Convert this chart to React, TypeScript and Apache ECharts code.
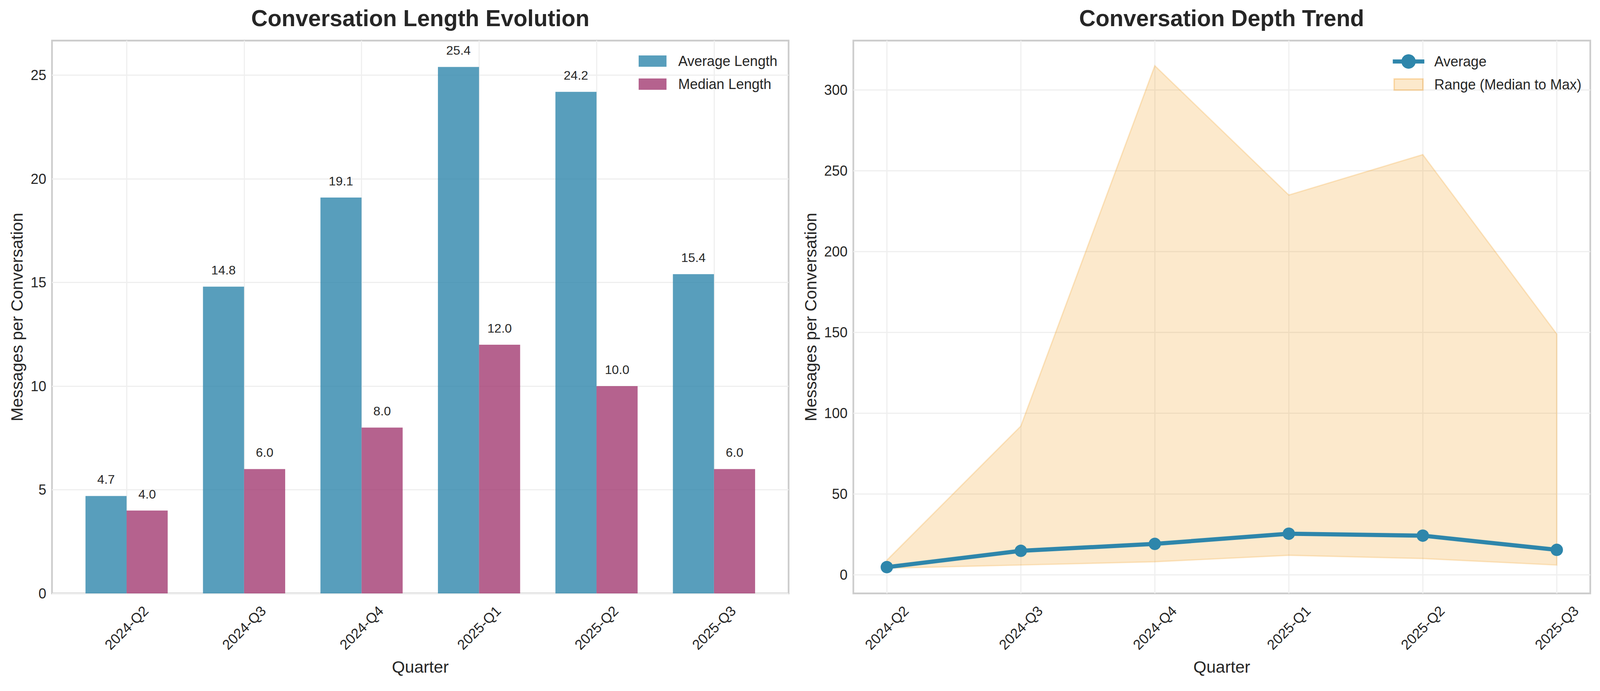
import React, { useEffect, useRef, useState } from 'react';
import * as echarts from 'echarts';

const quarters = ['2024-Q2', '2024-Q3', '2024-Q4', '2025-Q1', '2025-Q2', '2025-Q3'];
const avgLength = [4.7, 14.8, 19.1, 25.4, 24.2, 15.4];
const medianLength = [4, 6, 8, 12, 10, 6];
const maxLength = [9, 92, 315, 235, 260, 149];
const leftYTicks = [0, 5, 10, 15, 20, 25];
const rightYTicks = [0, 50, 100, 150, 200, 250, 300];

const FONT = '"Liberation Sans", Arial, Helvetica, sans-serif';
const TEXT = '#262626';
const GRID_LINE = '#efefef';
const BASE_W = 4770;
const BASE_H = 1770;

function viewSize() {
  const w = window.innerWidth || BASE_W;
  const h = window.innerHeight || BASE_H;
  return { w, h };
}

export default function App() {
  const ref = useRef<HTMLDivElement>(null);
  const [size] = useState(() => {
    document.body.style.margin = '0';
    document.body.style.overflow = 'hidden';
    return viewSize();
  });

  useEffect(() => {
    const W = size.w;
    const H = size.h;
    const sx = W / BASE_W;
    const sy = H / BASE_H;
    const s = Math.min(sx, sy);
    const X = (v: number) => v * sx;
    const Y = (v: number) => v * sy;
    const F = (v: number) => v * s;

    const chart = echarts.init(ref.current as HTMLDivElement, null, { renderer: 'svg', width: W, height: H });
    const xIdx = quarters.map((_, i) => i);
    const catLabel = (v: number) => {
      const i = Math.round(v);
      return Math.abs(v - i) < 1e-6 && quarters[i] ? quarters[i] : '';
    };
    const baseText = { color: TEXT, fontFamily: FONT };

    const xAxis = (gridIndex: number, min: number, max: number) => ({
      type: 'value',
      gridIndex,
      min,
      max,
      axisLine: { show: false },
      axisTick: { show: false, customValues: xIdx },
      axisLabel: {
        customValues: xIdx,
        formatter: catLabel,
        rotate: 45,
        align: 'center',
        verticalAlign: 'middle',
        margin: Y(88),
        fontSize: F(42),
        ...baseText,
      },
      splitLine: { show: true, lineStyle: { color: GRID_LINE, width: F(3.3) } },
      name: 'Quarter',
      nameLocation: 'middle',
      nameGap: Y(166),
      nameTextStyle: { fontSize: F(50), ...baseText },
    });

    const yAxis = (gridIndex: number, min: number, max: number, ticks: number[], nameGap: number) => ({
      type: 'value',
      gridIndex,
      min,
      max,
      axisLine: { show: false },
      axisTick: { show: false, customValues: ticks },
      axisLabel: { customValues: ticks, margin: X(17), fontSize: F(42), ...baseText },
      splitLine: { show: true, lineStyle: { color: GRID_LINE, width: F(3.3) } },
      name: 'Messages per Conversation',
      nameLocation: 'middle',
      nameGap: X(nameGap),
      nameTextStyle: { fontSize: F(50), ...baseText },
    });

    const barLabel = {
      show: true,
      position: 'top',
      distance: Y(26),
      fontSize: F(37.5),
      ...baseText,
      formatter: (p: any) => Number(p.value[1]).toFixed(1),
    };

    const option: any = {
      animation: false,
      backgroundColor: '#ffffff',
      title: [
        {
          text: 'Conversation Length Evolution',
          left: X(1253),
          top: Y(17),
          padding: 0,
          textAlign: 'center',
          textStyle: { fontSize: F(68), fontWeight: 'bold', ...baseText },
        },
        {
          text: 'Conversation Depth Trend',
          left: X(3642),
          top: Y(17),
          padding: 0,
          textAlign: 'center',
          textStyle: { fontSize: F(68), fontWeight: 'bold', ...baseText },
        },
      ],
      grid: [
        { left: X(155), top: Y(104), width: X(2196), height: Y(1416), show: true, borderColor: '#cccccc', borderWidth: F(5), backgroundColor: 'transparent' },
        { left: X(2544), top: Y(104), width: X(2197), height: Y(1416), show: true, borderColor: '#cccccc', borderWidth: F(5), backgroundColor: 'transparent' },
      ],
      xAxis: [xAxis(0, -0.635, 5.635), xAxis(1, -0.25, 5.25)],
      yAxis: [yAxis(0, 0, 26.67, leftYTicks, 80), yAxis(1, -11.55, 330.55, rightYTicks, 103)],
      legend: [
        {
          orient: 'vertical',
          left: X(1904),
          top: Y(135.5),
          padding: 0,
          itemWidth: X(83),
          itemHeight: Y(29),
          itemGap: Y(17),
          icon: 'rect',
          selectedMode: false,
          data: ['Average Length', 'Median Length'],
          textStyle: { fontSize: F(42), lineHeight: Y(42), padding: [0, 0, 0, X(29)], ...baseText },
        },
        {
          orient: 'vertical',
          left: X(4146),
          top: Y(134.5),
          padding: 0,
          itemWidth: X(94),
          itemHeight: Y(46),
          itemGap: Y(13),
          selectedMode: false,
          data: [
            { name: 'Average', lineStyle: { width: F(12.5), color: '#2E86AB' }, itemStyle: { color: '#2E86AB' } },
            {
              name: 'Range (Median to Max)',
              icon: 'path://M0,0M94,46M4,6.5L90,6.5L90,39.5L4,39.5Z',
              itemStyle: { color: 'rgba(241,143,1,0.2)', borderColor: 'rgba(241,143,1,0.3)', borderWidth: F(4) },
            },
          ],
          textStyle: { fontSize: F(42), lineHeight: Y(46), padding: [0, 0, 0, X(24)], ...baseText },
        },
      ],
      series: [
        {
          type: 'bar',
          name: 'Average Length',
          xAxisIndex: 0,
          yAxisIndex: 0,
          data: avgLength.map((v, i) => [i - 0.175, v]),
          barWidth: X(122.5),
          barGap: '-100%',
          itemStyle: { color: 'rgba(46,134,171,0.8)' },
          label: barLabel,
        },
        {
          type: 'bar',
          name: 'Median Length',
          xAxisIndex: 0,
          yAxisIndex: 0,
          data: medianLength.map((v, i) => [i + 0.175, v]),
          barWidth: X(122.5),
          barGap: '-100%',
          itemStyle: { color: 'rgba(162,59,114,0.8)' },
          label: barLabel,
        },
        {
          type: 'custom',
          name: 'Range (Median to Max)',
          xAxisIndex: 1,
          yAxisIndex: 1,
          data: xIdx.map((i) => [i, medianLength[i], maxLength[i]]),
          encode: { x: 0, y: [1, 2] },
          itemStyle: { color: 'rgba(241,143,1,0.2)' },
          z: 1,
          renderItem: (params: any, api: any) => {
            if (params.dataIndex !== 0) return null;
            const upper = xIdx.map((i) => api.coord([i, maxLength[i]]));
            const lower = xIdx.map((i) => api.coord([i, medianLength[i]])).reverse();
            return {
              type: 'polygon',
              shape: { points: upper.concat(lower) },
              style: { fill: 'rgba(241,143,1,0.2)', stroke: 'rgba(241,143,1,0.2)', lineWidth: F(4) },
            };
          },
        },
        {
          type: 'line',
          name: 'Average',
          xAxisIndex: 1,
          yAxisIndex: 1,
          data: avgLength.map((v, i) => [i, v]),
          symbol: 'circle',
          symbolSize: F(37),
          lineStyle: { width: F(12.5), color: '#2E86AB' },
          itemStyle: { color: '#2E86AB' },
          z: 3,
        },
      ],
    };

    chart.setOption(option);
    return () => chart.dispose();
  }, [size]);

  return <div ref={ref} style={{ width: size.w, height: size.h, position: 'absolute', left: 0, top: 0, overflow: 'hidden' }} />;
}
